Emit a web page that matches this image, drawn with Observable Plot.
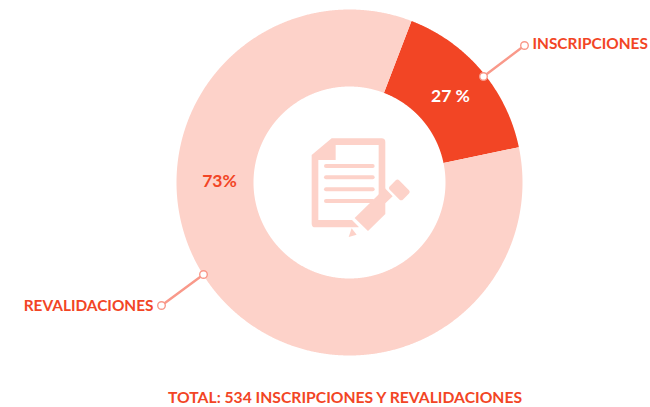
<!DOCTYPE html>
<html>
<head>
<meta charset="utf-8">
<script src="https://cdn.jsdelivr.net/npm/d3@7"></script>
<script src="https://cdn.jsdelivr.net/npm/@observablehq/plot@0.6"></script>
<style>
html,body{margin:0;padding:0;background:#fff;}
</style>
</head>
<body>
<div id="chart"></div>
<script>
// Data
const categories = ["INSCRIPCIONES", "REVALIDACIONES"];
const printedShares = ["27 %", "73%"];
const drawnShares = [15.9, 84.1]; // share of the circle each slice occupies in the picture
const caption = "TOTAL: 534 INSCRIPCIONES Y REVALIDACIONES";

// Layout and style
const W = 650, H = 407;
const cx = 349, cy = 182, rOuter = 173, rInner = 96, startDeg = 21;
const red = "#f24525", pale = "#fdd2c9", leader = "#f9998a";
const font = "Lato, 'Open Sans', sans-serif";
const sliceFill = [red, pale];
const shareColor = ["#ffffff", red];
const sharePos = [[450, 96], [219, 181]];
const leaderPts = [[[483, 76], [524, 45]], [[203, 274], [161, 305]]];
const labelPos = [[532, 44, "start"], [153, 306, "end"]];

// Slices via d3.pie, expressed as closed polygons around the centre
const pie = d3.pie().sort(null).value(d => d)
  .startAngle(startDeg * Math.PI / 180)
  .endAngle((startDeg + 360) * Math.PI / 180)(drawnShares);
const slicePts = pie.flatMap((p, i) => {
  const n = Math.ceil((p.endAngle - p.startAngle) / 0.005);
  const ang = d3.range(n + 1).map(k => p.startAngle + (p.endAngle - p.startAngle) * k / n);
  const ring = [...ang.map(a => [a, rOuter]), ...ang.slice().reverse().map(a => [a, rInner])];
  return ring.map(([a, r]) => ({i, x: cx + r * Math.sin(a), y: cy - r * Math.cos(a)}));
});

const iconMark = (index, scales, values, dimensions, context) => {
  const g = d3.select(context.document.createElementNS("http://www.w3.org/2000/svg", "g"))
    .attr("transform", "translate(290,120) scale(0.3333)").attr("fill", pale);
  g.append("path").attr("fill-rule", "evenodd").attr("d",
    "M125 55H275Q286 55 286 66V208L266 226V75H137V120H85V300H186L206 320V322H76Q65 322 65 311V105Z");
  for (const y of [138, 172, 208, 243])
    g.append("rect").attr("x", 102).attr("y", y - 6).attr("width", 152).attr("height", 12).attr("rx", 6);
  g.append("path").attr("d", "M285 205L308 229L286 250V282L234 333L194 294Z");
  g.append("rect").attr("x", -28).attr("y", -20).attr("width", 56).attr("height", 40).attr("rx", 8)
    .attr("transform", "translate(328,210) rotate(45)");
  g.append("path").attr("d", "M185 325L200 344L176 351Z");
  return g.node();
};

const shareData = categories.map((c, i) => ({c, t: printedShares[i], x: sharePos[i][0], y: sharePos[i][1], color: shareColor[i]}));
const labelData = categories.map((c, i) => ({c, x: labelPos[i][0], y: labelPos[i][1], anchor: labelPos[i][2]}));
const leaderData = leaderPts.flatMap((pts, i) => pts.map(([x, y]) => ({i, x, y})));

const plot = Plot.plot({
  width: W, height: H,
  margin: 0,
  style: {background: "#fff", fontFamily: font},
  x: {domain: [0, W], range: [0, W], axis: null},
  y: {domain: [0, H], range: [0, H], axis: null},
  marks: [
    Plot.line(slicePts, {x: "x", y: "y", z: "i", fill: d => sliceFill[d.i], stroke: null, curve: "linear-closed"}),
    iconMark,
    Plot.line(leaderData, {x: "x", y: "y", z: "i", stroke: leader, strokeWidth: 2.4}),
    Plot.dot(leaderData, {x: "x", y: "y", r: 3.8, fill: "#fff", stroke: leader, strokeWidth: 1.4}),
    Plot.text(shareData, {x: "x", y: "y", text: "t", fill: "color", fontSize: 17.5, fontWeight: 700, textAnchor: "middle"}),
    Plot.text(labelData.filter(d => d.anchor === "start"), {x: "x", y: "y", text: "c", fill: red, fontSize: 15.4, fontWeight: 700, textAnchor: "start"}),
    Plot.text(labelData.filter(d => d.anchor === "end"), {x: "x", y: "y", text: "c", fill: red, fontSize: 15.4, fontWeight: 700, textAnchor: "end"}),
    Plot.text([caption], {x: () => 344.5, y: () => 397, text: d => d, fill: red, fontSize: 15.7, fontWeight: 700, textAnchor: "middle"})
  ]
});
document.getElementById("chart").append(plot);
</script>
</body>
</html>
